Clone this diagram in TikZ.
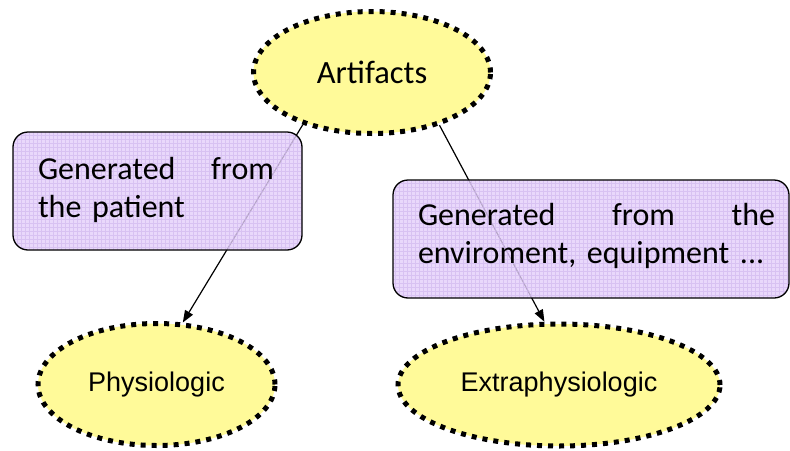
\documentclass[tikz,border=0pt]{standalone}
\usepackage{fontspec}
\setmainfont{Carlito}
\newfontfamily\arialf{Liberation Sans}
\usetikzlibrary{shapes.geometric,arrows.meta}
\definecolor{ellfill}{HTML}{FFFA99}
\definecolor{boxfill}{HTML}{E4CFFB}
\definecolor{gridc}{HTML}{CDB4EC}
\begin{document}
\begin{tikzpicture}[x=1pt,y=-1pt,
  oval/.style={ellipse, draw=black, fill=ellfill, line width=5pt,
    dash pattern=on 5pt off 6pt, inner sep=0pt, minimum height=122pt},
  infobox/.style={rectangle, rounded corners=15pt, draw=black, line width=1.3pt,
    fill=boxfill, fill opacity=0.8, inner sep=0pt,
    path picture={\draw[gridc, line width=0.4pt, step=4pt, opacity=0.6]
      (path picture bounding box.south west) grid (path picture bounding box.north east);}},
  boxtext/.style={font=\fontsize{32}{38}\selectfont, align=left, inner sep=0pt, anchor=center},
  conn/.style={-{Triangle[length=12pt,width=9pt]}, line width=1.2pt, black}]
\useasboundingbox (0,0) rectangle (790,450);
\fill[white] (0,0) rectangle (790,450);
% ellipses
\node[oval, minimum width=237pt, font=\fontsize{32.5}{36}\selectfont] (art) at (372,72.5) {Artifacts};
\node[oval, minimum width=237pt, font=\arialf\fontsize{27}{30}\selectfont] (phys) at (156.5,384.5) {Physiologic};
\node[oval, minimum width=322pt, font=\arialf\fontsize{27}{30}\selectfont] (ext) at (559,385) {Extraphysiologic};
% connectors
\draw[conn] (art.217.6) -- (phys.67.5);
\draw[conn] (art.322.8) -- (ext.103);
% boxes
\node[infobox, minimum width=289pt, minimum height=118pt] (box1) at (157.5,191) {};
\node[infobox, minimum width=396pt, minimum height=118pt] (box2) at (591,239) {};
\node[boxtext, text width=236pt] (t1) at (156,190) {\hbox to 236pt{Generated\hfill from}\\the patient};
\node[boxtext, text width=357pt] (t2) at (596.5,236) {\hbox to 357pt{Generated\hfill from\hfill the}\\enviroment, equipment ...};
\end{tikzpicture}
\end{document}
